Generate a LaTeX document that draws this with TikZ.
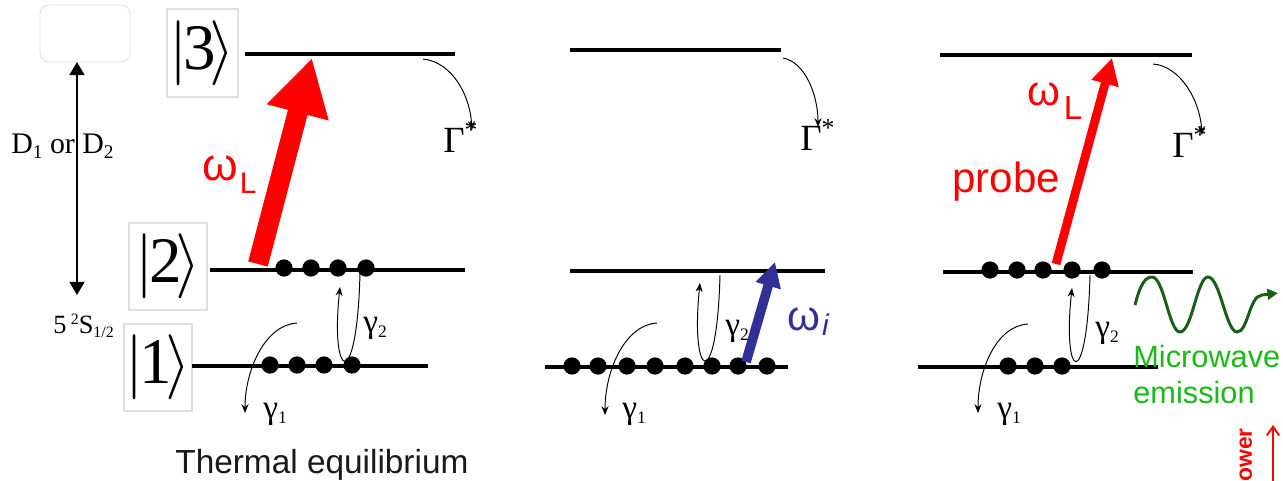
\documentclass[tikz,border=0pt]{standalone}
\usepackage{graphicx}
\usepackage{fontspec}
\setmainfont{Liberation Serif}
\newfontfamily\sansf{Liberation Sans}
\usetikzlibrary{arrows.meta}
\definecolor{lred}{RGB}{255,0,0}
\definecolor{lblue}{RGB}{48,48,150}
\definecolor{wgreen}{RGB}{25,95,25}
\definecolor{tgreen}{RGB}{25,185,25}
\definecolor{boxgray}{RGB}{222,222,222}
\newcommand\myket[1]{\scalebox{3.7}{\normalsize$|$}\kern-0.06em#1\kern-0.1em\scalebox{3.7}{\normalsize$\rangle$}}
\newcommand\lsub[2][10]{\raisebox{-3pt}{\fontsize{#1}{#1}\selectfont #2}}
\begin{document}
\begin{tikzpicture}[x=0.02cm,y=-0.02cm,
  level/.style={line width=2.2pt},
  ket/.style={draw=boxgray, line width=0.7pt, inner sep=0pt, font=\fontsize{37}{37}\selectfont},
  dot/.style={circle, fill=black, inner sep=0pt, minimum size=9.8pt},
  decay/.style={-{Stealth[length=5pt,width=4pt]}, line width=0.55pt},
  glab/.style={font=\fontsize{19}{19}\selectfont, inner sep=0pt, anchor=base west},
  Glab/.style={font=\fontsize{21}{21}\selectfont, inner sep=0pt, anchor=base west},
  txt/.style={inner sep=0pt, anchor=base west}]
\fill[white] (0,0) rectangle (1283,480);
\useasboundingbox (0,0) rectangle (1283,480);

% ---------- left scale ----------
\node[draw=boxgray, rounded corners=5pt, minimum width=1.8cm, minimum height=1.14cm, inner sep=0pt] (blank) at (85,33.5) {};
\node[txt, font=\fontsize{17}{17}\selectfont] (dlab) at (11,153) {D\lsub[11]{1} or D\lsub[11]{2}};
\coordinate (dTop) at (77,62);
\coordinate (dBot) at (77,295);
\draw[line width=1.2pt, {Triangle[length=7.5pt,width=8.5pt]}-{Triangle[length=7.5pt,width=8.5pt]}] (dTop) -- (dBot);
\node[txt, font=\fontsize{15}{15}\selectfont] (slab) at (53,333) {5\,\raisebox{5pt}{\fontsize{9}{9}\selectfont 2}S\raisebox{-2.5pt}{\fontsize{9}{9}\selectfont 1/2}};

% ---------- panel 1 ----------
\node[ket, minimum width=1.42cm, minimum height=1.76cm] (k3) at (202.5,53) {\myket{3}};
\node[ket, minimum width=1.56cm, minimum height=1.74cm] (k2) at (168,266.5) {\myket{2}};
\node[ket, minimum width=1.36cm, minimum height=1.74cm] (k1) at (158,367.5) {\myket{1}};
\draw[level] (245,54) -- (455,54);
\draw[level] (210,270) -- (465,270);
\draw[level] (192,366) -- (428,366);
\foreach \x [count=\i] in {284,311,338,366} \node[dot] (aU\i) at (\x,268) {};
\foreach \x [count=\i] in {270,297,324,352} \node[dot] (aL\i) at (\x,365) {};
\coordinate (aRs) at (258,264);
\coordinate (aRe) at (312,58);
\draw[lred, line width=11.5pt, -{Triangle[length=32pt,width=34pt]}] (aRs) -- (aRe);
\node[txt, text=lred] (aw) at (202,180) {\sansf\fontsize{26}{26}\selectfont ω\kern1pt\raisebox{-7.4pt}{\fontsize{17}{17}\selectfont L}};
\coordinate (aGs) at (423,59);
\coordinate (aGe) at (472,130);
\draw[decay] (aGs) .. controls (452,62) and (470,95) .. (aGe);
\node[Glab] (aG) at (443,152) {Γ\textsuperscript{*}};
\coordinate (a1s) at (297,323);
\coordinate (a1e) at (245,413);
\draw[decay] (a1s) .. controls (265,325) and (245,370) .. (a1e);
\node[glab] (ag1) at (263,418) {γ\lsub{1}};
\coordinate (a2s) at (360,273);
\coordinate (a2e) at (340,287);
\draw[decay] (a2s) .. controls (357,395) and (330,380) .. (a2e);
\node[glab] (ag2) at (363,332) {γ\lsub{2}};
\node[txt, font=\sansf\fontsize{19}{19}\selectfont, text=black!90] (therm) at (175,473) {Thermal equilibrium};

% ---------- panel 2 ----------
\draw[level] (570,50) -- (781,50);
\draw[level] (570,271) -- (825,271);
\draw[level] (545,367) -- (788,367);
\foreach \x [count=\i] in {572,598,627,655,685,712,738,767} \node[dot] (bL\i) at (\x,366) {};
\coordinate (bBs) at (746,362);
\coordinate (bBe) at (775,262);
\draw[lblue, line width=5.5pt, -{Triangle[length=14pt,width=14pt]}] (bBs) -- (bBe);
\node[txt, text=lblue] (bw) at (787,330) {\sansf\fontsize{24}{24}\selectfont ω\kern1pt\raisebox{-3pt}{\fontsize{17}{17}\selectfont\itshape i}};
\coordinate (bGs) at (783,58);
\coordinate (bGe) at (818,127);
\draw[decay] (bGs) .. controls (805,62) and (818,95) .. (bGe);
\node[Glab] (bG) at (800,150) {Γ\textsuperscript{*}};
\coordinate (b1s) at (657,323);
\coordinate (b1e) at (605,415);
\draw[decay] (b1s) .. controls (625,325) and (605,370) .. (b1e);
\node[glab] (bg1) at (622,418) {γ\lsub{1}};
\coordinate (b2s) at (720,275);
\coordinate (b2e) at (700,283);
\draw[decay] (b2s) .. controls (717,395) and (690,380) .. (b2e);
\node[glab] (bg2) at (725,335) {γ\lsub{2}};

% ---------- panel 3 ----------
\draw[level] (940,55) -- (1192,55);
\draw[level] (943,272) -- (1193,272);
\draw[level] (918,367) -- (1158,367);
\foreach \x [count=\i] in {990,1017,1043,1072,1102} \node[dot] (cU\i) at (\x,270) {};
\foreach \x [count=\i] in {1008,1035,1062} \node[dot] (cL\i) at (\x,366) {};
\coordinate (cRs) at (1056,264);
\coordinate (cRe) at (1112,58);
\draw[lred, line width=5pt, -{Triangle[length=15pt,width=15pt]}] (cRs) -- (cRe);
\node[txt, text=lred] (cw) at (1027,105) {\sansf\fontsize{24}{24}\selectfont ω\kern2pt\raisebox{-8.5pt}{\fontsize{19}{19}\selectfont L}};
\node[txt, text=lred, font=\sansf\fontsize{24}{24}\selectfont] (probe) at (952,192) {probe};
\coordinate (cGs) at (1153,64);
\coordinate (cGe) at (1202,135);
\draw[decay] (cGs) .. controls (1180,66) and (1200,100) .. (cGe);
\node[Glab] (cG) at (1172,157) {Γ\textsuperscript{*}};
\coordinate (c1s) at (1028,324);
\coordinate (c1e) at (978,413);
\draw[decay] (c1s) .. controls (996,326) and (978,370) .. (c1e);
\node[glab] (cg1) at (997,418) {γ\lsub{1}};
\coordinate (c2s) at (1090,275);
\coordinate (c2e) at (1072,288);
\draw[decay] (c2s) .. controls (1087,395) and (1062,380) .. (c2e);
\node[glab] (cg2) at (1095,337) {γ\lsub{2}};

% microwave emission
\coordinate (wS) at (1135,305);
\coordinate (wE) at (1278,293);
\draw[wgreen, line width=1.7pt, -{Triangle[length=6pt,width=6pt]}] (wS) .. controls (1140,285) and (1145,277) .. (1152,277) .. controls (1164,277) and (1169,332) .. (1180,332) .. controls (1192,332) and (1197,277) .. (1208,277) .. controls (1220,277) and (1226,332) .. (1237,332) .. controls (1248,332) and (1249,296) .. (1262,295) -- (wE);
\node[txt, text=tgreen, font=\sansf\fontsize{17.5}{17.5}\selectfont] (mw1) at (1133,367) {Microwave};
\node[txt, text=tgreen, font=\sansf\fontsize{17.5}{17.5}\selectfont] (mw2) at (1133,403) {emission};

% power
\node[inner sep=0pt, rotate=90, anchor=east, text=lred, font=\sansf\bfseries\fontsize{13}{13}\selectfont] (pow) at (1248,428) {power};
\coordinate (pwS) at (1273,490);
\coordinate (pwE) at (1273,425);
\draw[lred, line width=1.1pt, -{Straight Barb[length=5pt,width=7pt]}] (pwS) -- (pwE);
\end{tikzpicture}
\end{document}
